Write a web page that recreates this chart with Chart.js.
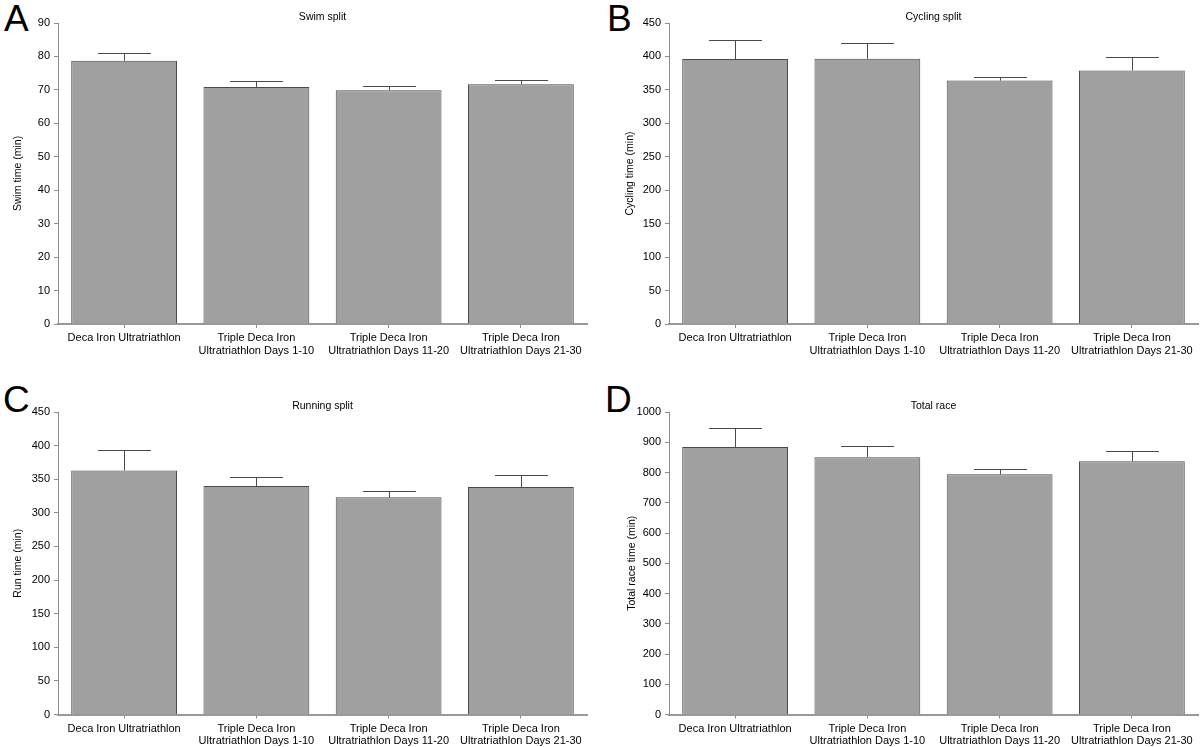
<!DOCTYPE html>
<html>
<head>
<meta charset="utf-8">
<script src="https://cdn.jsdelivr.net/npm/chart.js@4/dist/chart.umd.min.js"></script>
<style>
  body { margin: 0; background: #fff; width: 1200px; height: 747px; overflow: hidden; position: relative; font-family: "Liberation Sans", Arial, sans-serif; }
  canvas { position: absolute; }
  .letter { position: absolute; font-size: 37px; line-height: 37px; color: #000; }
</style>
</head>
<body>
<div class="letter" style="left:4px;top:0px">A</div>
<div class="letter" style="left:607px;top:0px">B</div>
<div class="letter" style="left:3px;top:381px">C</div>
<div class="letter" style="left:605px;top:381px">D</div>
<canvas id="chartA" width="600" height="373" style="left:0;top:0"></canvas>
<canvas id="chartB" width="600" height="373" style="left:600px;top:0"></canvas>
<canvas id="chartC" width="600" height="374" style="left:0;top:373px"></canvas>
<canvas id="chartD" width="600" height="374" style="left:600px;top:373px"></canvas>
<script>
// DATA
const categories = [
  "Deca Iron Ultratriathlon",
  ["Triple Deca Iron", "Ultratriathlon Days 1-10"],
  ["Triple Deca Iron", "Ultratriathlon Days 11-20"],
  ["Triple Deca Iron", "Ultratriathlon Days 21-30"]
];

const swimMean = [78.7, 70.9, 69.9, 71.7];
const swimSD = [2.3, 1.9, 1.4, 1.3];

const cycleMean = [396, 396.5, 364, 379];
const cycleSD = [28, 24, 6, 19.5];

const runMean = [363, 340, 323, 338.5];
const runSD = [30.5, 13.5, 9.5, 18.5];

const totalMean = [884.5, 850.5, 794.5, 837.5];
const totalSD = [61.5, 37.5, 16.5, 35];

const FONT = "'Liberation Sans', Arial, sans-serif";

// error bars (upper only) + panel title
const extras = {
  id: "extras",
  afterDatasetsDraw(chart, args, opts) {
    const ctx = chart.ctx;
    const yScale = chart.scales.y;
    const meta = chart.getDatasetMeta(0);
    const sd = opts.sd;
    const mean = chart.data.datasets[0].data;

    ctx.save();
    ctx.strokeStyle = "#4a4a4a";
    ctx.lineWidth = 1;
    meta.data.forEach((bar, i) => {
      const top = yScale.getPixelForValue(mean[i] + sd[i]);
      const half = bar.width / 4;
      const x = Math.round(bar.x) + 0.5;
      const yt = Math.round(top) + 0.5;
      ctx.beginPath();
      ctx.moveTo(x, bar.y);
      ctx.lineTo(x, yt);
      ctx.moveTo(x - half, yt);
      ctx.lineTo(x + half, yt);
      ctx.stroke();
    });

    const area = chart.chartArea;
    ctx.fillStyle = "#000";
    ctx.font = "10.5px " + FONT;
    ctx.textAlign = "center";
    ctx.textBaseline = "middle";
    ctx.fillText(opts.title, (area.left + area.right) / 2, area.top - 6);
    ctx.restore();
  }
};

function makeChart(id, mean, sd, title, yTitle, yMax, step, layout) {
  const ctx = document.getElementById(id).getContext("2d");
  return new Chart(ctx, {
    type: "bar",
    data: {
      labels: categories,
      datasets: [{
        data: mean,
        backgroundColor: "#a0a0a0",
        borderColor: "#4a4a4a",
        borderWidth: 1,
        barPercentage: 0.8,
        categoryPercentage: 1.0
      }]
    },
    options: {
      responsive: false,
      devicePixelRatio: 1,
      animation: false,
      layout: { padding: { top: layout.top, right: layout.right, left: 0, bottom: 0 } },
      plugins: {
        legend: { display: false },
        tooltip: { enabled: false },
        extras: { sd: sd, title: title }
      },
      scales: {
        x: {
          offset: true,
          grid: {
            offset: false,
            drawOnChartArea: false,
            tickLength: 4,
            tickColor: "#8c8c8c"
          },
          border: { color: "#999", width: 2 },
          ticks: {
            color: "#000",
            padding: 4,
            maxRotation: 0,
            autoSkip: false,
            font: { family: FONT, size: 11, lineHeight: 1.13 }
          },
          afterFit(scale) { scale.height = layout.xh; }
        },
        y: {
          min: 0,
          max: yMax,
          grid: {
            drawOnChartArea: false,
            tickLength: 4,
            tickColor: "#8c8c8c"
          },
          border: { color: "#8c8c8c", width: 1 },
          ticks: {
            stepSize: step,
            color: "#000",
            padding: 4,
            font: { family: FONT, size: 11 },
            callback: v => String(v)
          },
          title: {
            display: true,
            text: yTitle,
            color: "#000",
            padding: { top: layout.tp, bottom: 0 },
            font: { family: FONT, size: 10.5 }
          },
          afterFit(scale) { scale.width = layout.yw; }
        }
      }
    },
    plugins: [extras]
  });
}

makeChart("chartA", swimMean, swimSD, "Swim split", "Swim time (min)", 90, 10,
  { top: 23, right: 13, xh: 49, yw: 58, tp: 11.5 });
makeChart("chartB", cycleMean, cycleSD, "Cycling split", "Cycling time (min)", 450, 50,
  { top: 23, right: 2, xh: 49, yw: 69, tp: 23.5 });
makeChart("chartC", runMean, runSD, "Running split", "Run time (min)", 450, 50,
  { top: 39, right: 13, xh: 32.5, yw: 58, tp: 11.5 });
makeChart("chartD", totalMean, totalSD, "Total race", "Total race time (min)", 1000, 100,
  { top: 39, right: 2, xh: 32.5, yw: 69, tp: 25.5 });
</script>
</body>
</html>
